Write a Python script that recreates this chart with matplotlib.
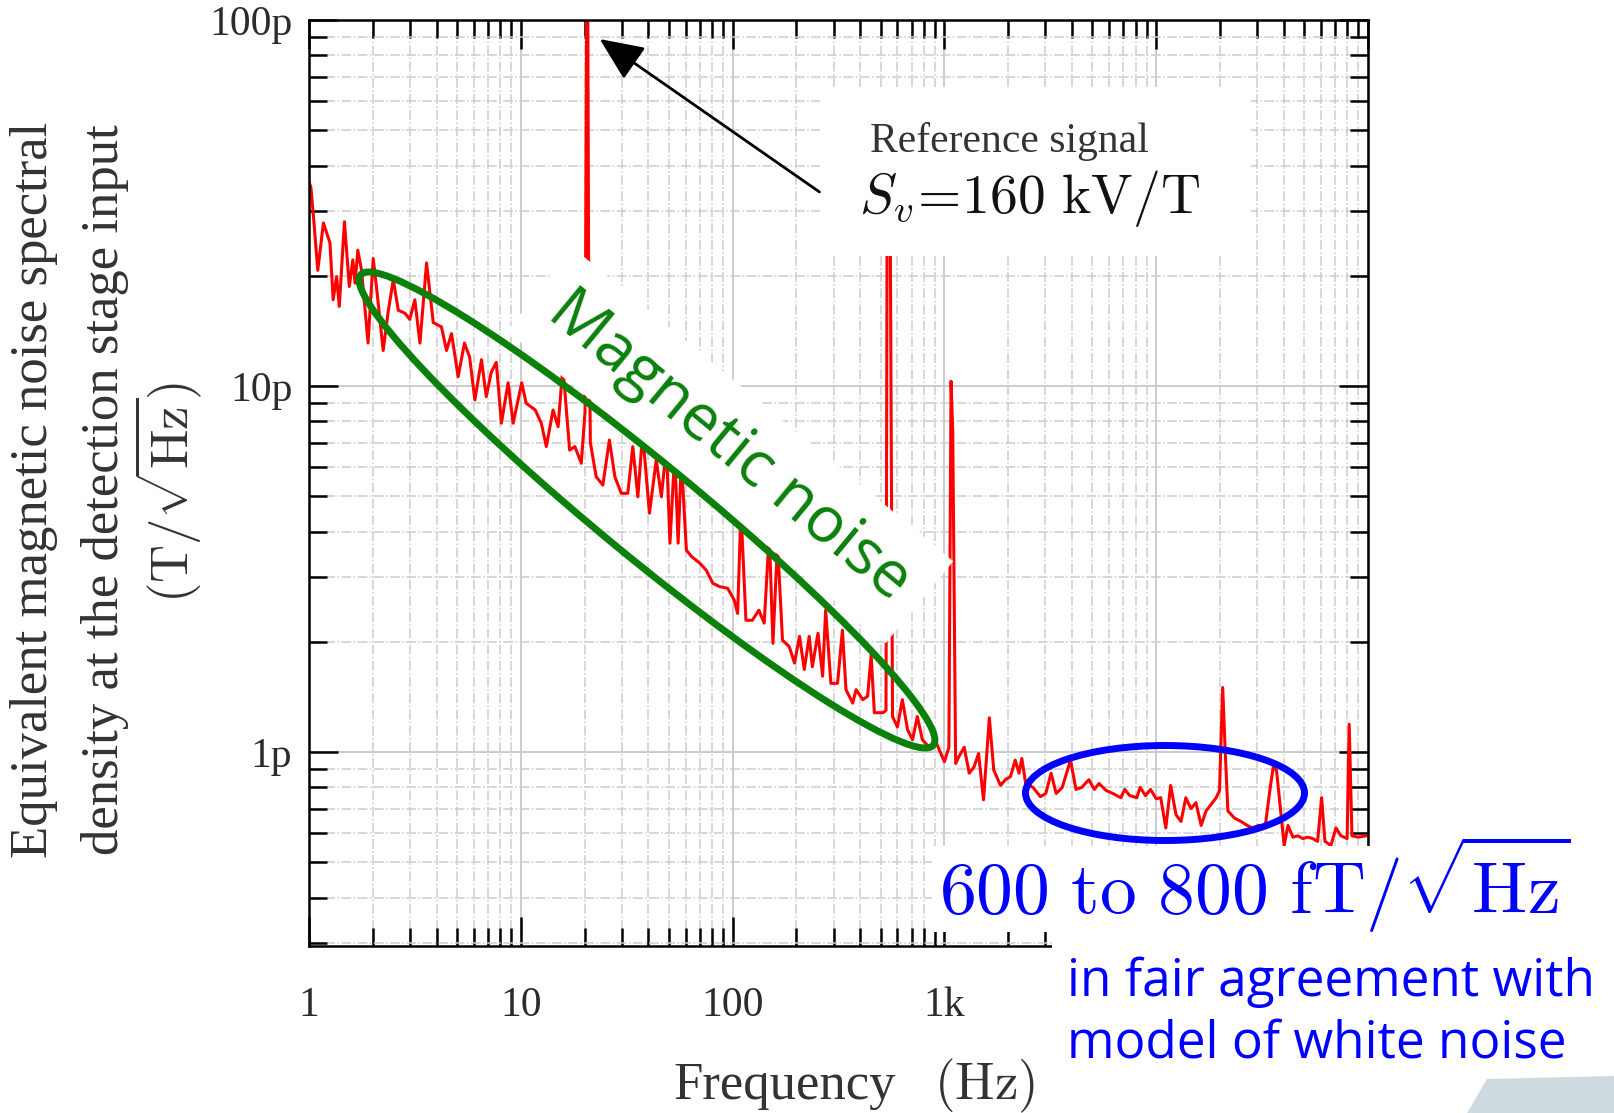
# Equivalent magnetic noise spectrum at the detection stage input

import matplotlib
matplotlib.use('Agg')
import matplotlib.pyplot as plt
import numpy as np
from matplotlib.patches import Ellipse, Rectangle, Polygon
from matplotlib.ticker import FixedLocator, FixedFormatter, LogLocator, NullFormatter

# frequency (Hz) and noise density (pT/sqrt(Hz))
freq_hz = [1.0, 1.02, 1.05, 1.10, 1.17, 1.256, 1.30, 1.35, 1.39, 1.47, 1.55, 1.61, 1.65, 1.70,
           1.77, 1.87, 1.90, 2.01, 2.09, 2.24, 2.37, 2.50, 2.64, 2.84, 2.99, 3.16, 3.34, 3.59,
           3.86, 4.22, 4.46, 4.71, 5.06, 5.42, 5.73, 6.07, 6.52, 6.87, 7.25, 7.66, 8.10, 8.71,
           9.20, 10.1, 10.6, 11.7, 12.5, 13.2, 14.2, 15.0, 15.8, 17.0, 18.0, 19.3, 20.1, 20.6,
           20.9, 21.3, 22.7, 24.4, 26.2, 27.8, 29.8, 32.0, 33.8, 35.7, 37.6, 40.5, 43.6, 46.1,
           48.7, 50.6, 53.3, 55.3, 57.3, 60.5, 64.0, 70.0, 75.0, 80.7, 86.8, 94.8, 101.8, 105.6,
           109.5, 115.6, 124, 133, 141, 149, 155, 163, 172, 185, 196, 207, 218, 230, 238, 253,
           266, 275, 291, 313, 330, 343, 369, 383, 412, 434, 451, 467, 513, 530, 538, 552, 569,
           600, 633, 670, 707, 745, 787, 848, 915, 1000, 1050, 1075, 1095, 1130, 1170, 1240,
           1310, 1380, 1450, 1530, 1630, 1710, 1840, 1940, 2050, 2160, 2250, 2320, 2420, 2620,
           2840, 3010, 3190, 3370, 3600, 3940, 4180, 4450, 4810, 5100, 5370, 5800, 6250, 6800,
           7100, 7500, 8100, 8400, 8900, 9400, 10000, 10500, 11100, 11700, 12400, 13100, 13800,
           14600, 15400, 16300, 17200, 18200, 19200, 19900, 20600, 21200, 21800, 23400, 25100,
           26900, 28400, 30500, 32700, 34400, 35700, 37000, 38300, 40200, 41900, 44200, 46600,
           49200, 51900, 54800, 57800, 60400, 62600, 66800, 70600, 74500, 79700, 81500, 84000,
           89800, 98000]
noise_pt = [36, 35, 29, 20.7, 27.9, 24.6, 17.2, 19.9, 16.5, 28.1, 18.7, 22.1, 19.1, 23.5,
            20.7, 14.5, 13.1, 22.3, 18.3, 12.5, 16.1, 19.5, 16.1, 15.8, 15.2, 17.2, 13.1, 21.7,
            14.9, 14.5, 12.5, 13.9, 10.6, 13.1, 12.0, 9.16, 11.8, 9.35, 10.9, 11.6, 7.91, 10.2,
            7.91, 10.2, 8.97, 8.6, 7.91, 6.83, 8.6, 7.74, 11.3, 6.68, 6.83, 6.15, 8.5, 300,
            22, 7.0, 5.65, 5.36, 7.12, 5.65, 5.09, 5.09, 6.83, 4.98, 7.43, 4.49, 6.28, 4.98,
            6.83, 3.72, 6.55, 3.72, 6.28, 3.56, 3.42, 3.28, 3.14, 2.89, 2.83, 2.80, 2.60, 2.39,
            4.58, 2.29, 2.29, 2.44, 2.25, 3.96, 1.98, 3.72, 2.02, 1.94, 1.75, 2.07, 1.68, 2.07, 1.71, 2.11,
            1.61, 2.44, 1.54, 1.54, 2.15, 1.48, 1.36, 1.48, 1.39, 1.42, 1.84, 1.28, 1.28, 1.3, 60, 55, 1.25,
            1.17, 1.39, 1.15, 1.08, 1.25, 1.08, 1.03, 1.06, 0.94, 1.03, 10.3, 7.5, 0.93, 0.97, 1.03,
            0.875, 0.91, 0.99, 0.74, 1.24, 0.893, 0.81, 0.84, 0.856, 0.95, 0.875, 0.96, 0.82, 0.80,
            0.755, 0.77, 0.875, 0.77, 0.80, 0.95, 0.79, 0.80, 0.84, 0.79, 0.82, 0.785, 0.77, 0.75,
            0.79, 0.76, 0.75, 0.80, 0.76, 0.79, 0.745, 0.75, 0.62, 0.81, 0.674, 0.646, 0.75,
            0.70, 0.727, 0.63, 0.69, 0.72, 0.75, 0.785, 1.50, 0.99, 0.69, 0.66, 0.646,
            0.63, 0.62, 0.63, 0.625, 0.785, 0.91, 0.89, 0.73, 0.555, 0.63, 0.585, 0.59,
            0.58, 0.585, 0.58, 0.57, 0.75, 0.57, 0.555, 0.62, 0.59, 0.58, 1.19, 0.59,
            0.585, 0.59]

# the 10k / 100k labels are hidden under the note in the original
x_ticks = [1, 10, 100, 1e3, 1e4, 1e5]
x_tick_labels = ['1', '10', '100', '1k', '', '']
y_ticks = [1e-12, 1e-11, 1e-10]
y_tick_labels = ['1p', '10p', '100p']

W, H = 1614, 1113


def fx(x):
    return x / W


def fy(y):
    # pixel row measured from the top -> figure fraction
    return 1 - y / H


plt.rcParams['mathtext.fontset'] = 'cm'
plt.rcParams['font.family'] = ['Liberation Serif', 'DejaVu Serif']

fig = plt.figure(figsize=(W / 100, H / 100), dpi=100)
ax = fig.add_axes([fx(309), fy(946), fx(1368 - 309), (946 - 20) / H])

ax.plot(freq_hz, np.array(noise_pt) * 1e-12, color='#ff0000', lw=2.2, zorder=2)

ax.set_xscale('log')
ax.set_yscale('log')
ax.set_xlim(1, 1e5)
ax.set_ylim(0.295e-12, 1e-10)

ax.xaxis.set_major_locator(FixedLocator(x_ticks))
ax.xaxis.set_major_formatter(FixedFormatter(x_tick_labels))
ax.yaxis.set_major_locator(FixedLocator(y_ticks))
ax.yaxis.set_major_formatter(FixedFormatter(y_tick_labels))
for axis in (ax.xaxis, ax.yaxis):
    axis.set_minor_locator(LogLocator(base=10, subs=np.arange(2, 10), numticks=30))
    axis.set_minor_formatter(NullFormatter())

ax.set_axisbelow(True)
ax.grid(which='major', color='#c8c8c8', lw=1.3, ls='-')
ax.grid(which='minor', color='#cdcdcd', lw=1.1, ls='-.')

ax.tick_params(which='both', direction='in', top=True, right=True, width=1.8, color='black',
               labelsize=30, labelcolor='#2b2b2b')
ax.tick_params(which='major', length=21)
ax.tick_params(which='minor', length=13)
ax.tick_params(axis='x', pad=29)
ax.tick_params(axis='y', pad=12)
for s in ax.spines.values():
    s.set_linewidth(1.8)

# white panel behind the reference signal note
ax.add_patch(Rectangle((0.4825, 0.745), 0.407, 0.183, transform=ax.transAxes,
                       fc='white', ec='none', zorder=3))
ax.annotate('', xy=(23.6, 88.7e-12), xytext=(257, 33.9e-12),
            arrowprops=dict(arrowstyle='-|>,head_length=0.9,head_width=0.4', color='black',
                            lw=2, mutation_scale=30, shrinkA=0, shrinkB=0), zorder=4)

fig.text(fx(870), fy(152), 'Reference signal', fontsize=30, color='#333333', va='baseline')
fig.text(fx(859), fy(213), r'$S_v\!=\!160\ \mathrm{kV}/\mathrm{T}$', fontsize=40,
         color='#111111', va='baseline')

# magnetic noise region
fig.text(fx(730), fy(446), 'Magnetic noise', rotation=-39.5, rotation_mode='anchor',
         ha='center', va='center', fontsize=46, color='#0b800b',
         family=['Open Sans', 'DejaVu Sans'],
         bbox=dict(fc='white', ec='none', pad=15), zorder=3)
fig.add_artist(Ellipse((6.47, (H - 510) / 100), 7.41, 0.95, angle=-39.4,
                       transform=fig.dpi_scale_trans, fill=False, ec='#0b800b', lw=5, zorder=4))

# white noise region
fig.add_artist(Rectangle((fx(932), fy(932)), 1 - fx(932), (932 - 846) / H,
                         transform=fig.transFigure, fc='white', ec='none', zorder=2))
fig.add_artist(Rectangle((fx(1052), 0), 1 - fx(1052), (H - 932) / H,
                         transform=fig.transFigure, fc='white', ec='none', zorder=2))
fig.add_artist(Polygon([(fx(1467), fy(1113)), (fx(1487), fy(1079)), (1, fy(1076)), (1, 0)],
                       closed=True, transform=fig.transFigure, fc='#cddbe1', ec='none', zorder=2))
fig.add_artist(Ellipse((11.65, (H - 793) / 100), 2.79, 0.95, transform=fig.dpi_scale_trans,
                       fill=False, ec='#0000ff', lw=5, zorder=4))
fig.text(fx(939), fy(914), r'$600\ \mathrm{to}\ 800\ \mathrm{fT}/\sqrt{\mathrm{Hz}}$',
         fontsize=53, color='#0000ff', va='baseline', zorder=5)
fig.text(fx(1067), fy(996), 'in fair agreement with', fontsize=37, color='#0000ff',
         family=['Open Sans', 'DejaVu Sans'], va='baseline', zorder=5)
fig.text(fx(1067), fy(1058), 'model of white noise', fontsize=37, color='#0000ff',
         family=['Open Sans', 'DejaVu Sans'], va='baseline', zorder=5)

# axis titles
fig.text(fx(34), fy(490), 'Equivalent magnetic noise spectral', rotation=90,
         ha='center', va='center', fontsize=38, color='#333333')
fig.text(fx(105), fy(490), 'density at the detection stage input', rotation=90,
         ha='center', va='center', fontsize=38, color='#333333')
fig.text(fx(168), fy(492), r'$(\mathrm{T}/\sqrt{\mathrm{Hz}})$', rotation=90,
         ha='center', va='center', fontsize=38, color='#333333')
fig.text(fx(673), fy(1099), 'Frequency', fontsize=38, color='#333333', va='baseline')
fig.text(fx(934), fy(1099), r'$(\mathrm{Hz})$', fontsize=38, color='#333333', va='baseline')

fig.savefig('out.png', dpi=100)
